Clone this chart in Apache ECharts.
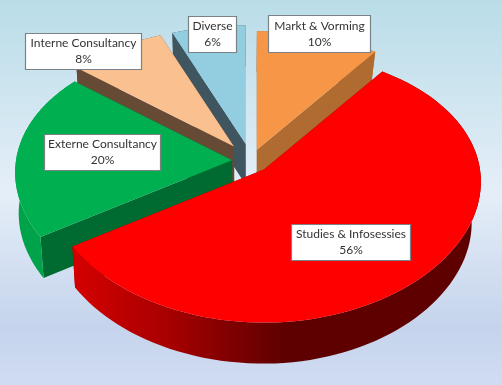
<!DOCTYPE html>
<html>
<head>
<meta charset="utf-8">
<style>html,body{margin:0;padding:0;background:#fff}#c{width:502px;height:385px}</style>
<script src="https://cdn.jsdelivr.net/npm/echarts@6/dist/echarts.min.js"></script>
</head>
<body>
<div id="c"></div>
<script>
const categories = ['Markt & Vorming', 'Studies & Infosessies', 'Externe Consultancy', 'Interne Consultancy', 'Diverse'];
const values = [10, 56, 20, 8, 6];

// look of each slice
const topColors = ['#F79646', '#FF0000', '#00B050', '#FAC090', '#92CDE0'];
const edgeColors = ['#B06C30', '#8A0000', '#006B30', '#664A35', '#3F5660'];
const rimColors = ['#B06C30', null, '#00A24A', '#664A35', '#3F5660'];
const stacking = [2, 4, 3, 1, 0];      // back to front
const explode = [19, 19, 19, 29, 28];  // px pulled out of the pie
const boxes = [[268, 15, 102, 37], [291, 224, 119, 36], [44, 134, 116, 36], [25, 33, 116, 36], [188, 16, 48, 36]];

// projection of the tilted pie
const CX = 251, CY = 161, RX = 216, RY = 133.6, PERSP_X = 0.09, PERSP_Y = 0.127, DEPTH = 41;
const SHRINK_LEFT = 0.985, SHRINK_RIGHT = 0.96;
const total = values.reduce((a, b) => a + b, 0);

function proj(theta, r) {
  const X = Math.sin(theta) * r, Y = Math.cos(theta) * r;
  return [RX * X / (1 + PERSP_X * Y), -RY * Y / (1 + PERSP_Y * Y)];
}
function lower(p) {
  const s = p[0] < CX ? SHRINK_LEFT : SHRINK_RIGHT;
  return [CX + (p[0] - CX) * s, p[1] + DEPTH];
}

function renderSlice(params, api) {
  const i = params.dataIndex;
  let acc = 0;
  for (let k = 0; k < i; k++) acc += values[k];
  const a0 = acc / total * 2 * Math.PI, a1 = (acc + api.value(0)) / total * 2 * Math.PI;
  const mid = (a0 + a1) / 2;
  const eX = Math.sin(mid) * explode[i], eY = Math.cos(mid) * explode[i];
  const apex = [CX + eX, CY - eY * RY / RX];
  const arc = [];
  const n = 90;
  for (let s = 0; s <= n; s++) {
    const q = proj(a0 + (a1 - a0) * s / n, 1);
    arc.push([apex[0] + q[0], apex[1] + q[1]]);
  }
  const z = stacking[i] * 10;
  const topFace = [apex].concat(arc);
  const edge = (p) => [apex, p, lower(p), lower(apex)];
  const rim = arc.concat(arc.map(lower).reverse());
  const rimFill = rimColors[i] || new echarts.graphic.LinearGradient(70, 0, 285, 0, [
    { offset: 0, color: '#D60000' },
    { offset: 0.45, color: '#A80000' },
    { offset: 0.8, color: '#780000' },
    { offset: 1, color: '#5E0000' }
  ], true);
  const poly = (pts, fill, zz) => ({
    type: 'polygon', z2: zz, shape: { points: pts }, style: { fill: fill, stroke: null }
  });
  const b = boxes[i];
  return {
    type: 'group',
    children: [
      poly(edge(arc[0]), edgeColors[i], z + 1),
      poly(edge(arc[n]), edgeColors[i], z + 1),
      poly(rim, rimFill, z + 2),
      poly(topFace, topColors[i], z + 3),
      {
        type: 'rect', z2: 100,
        shape: { x: b[0] + 0.5, y: b[1] + 0.5, width: b[2], height: b[3] },
        style: { fill: '#FFFFFF', stroke: '#7B8287', lineWidth: 1.2 }
      },
      {
        type: 'text', z2: 101,
        style: {
          x: b[0] + b[2] / 2 + 0.5, y: b[1] + b[3] / 2 + 0.5,
          text: categories[i] + '\n' + api.value(0) + '%',
          align: 'center', verticalAlign: 'middle',
          font: '12px Lato', lineHeight: 16, fill: '#333333'
        }
      }
    ]
  };
}

const chart = echarts.init(document.getElementById('c'), null, { renderer: 'canvas' });
chart.setOption({
  animation: false,
  backgroundColor: new echarts.graphic.LinearGradient(0, 0, 0, 1, [
    { offset: 0, color: '#B9DDE8' },
    { offset: 0.5, color: '#E5EEF8' },
    { offset: 0.85, color: '#C5D4EC' },
    { offset: 1, color: '#D0DCF2' }
  ]),
  series: [{
    type: 'custom',
    coordinateSystem: 'none',
    renderItem: renderSlice,
    data: values.map(v => [v]),
    silent: true
  }]
});
</script>
</body>
</html>
